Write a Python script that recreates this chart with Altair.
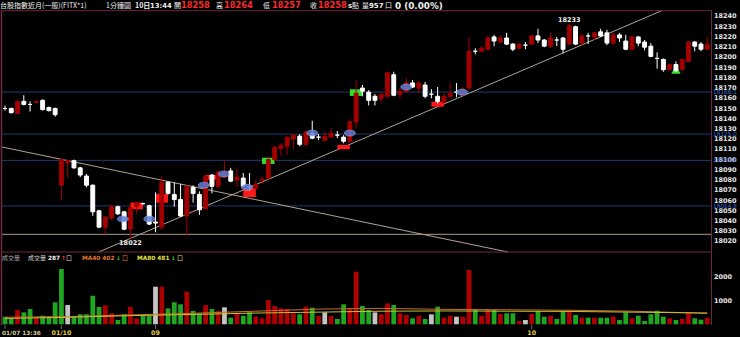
import altair as alt
import pandas as pd

# ---------------- data ----------------
opens = [18150,18150,18145,18157,18154,18156,18158,18151,18150,
         18075,18097,18099,18092,18084,18075,18050,18034,18043,18054,18049,
         18032,18054,18057,18055,18039,18034,18078,18066,18061,18045,
         18073,18066,18052,18085,18074,18083,18089,18080,18082,18074,
         18072,18080,18082,18100,18111,18113,18120,18123,18115,18126,
         18122,18119,18122,18124,18122,18118,18137,18170,18166,18162,
         18160,18162,18183,18164,18167,18175,18170,18173,18164,18162,
         18156,18162,18166,18163,18170,18206,18206,18208,18220,18215,
         18219,18213,18209,18212,18213,18221,18217,18211,18217,18219,
         18213,18230,18214,18221,18220,18225,18224,18214,18222,18216,
         18208,18220,18215,18211,18199,18198,18188,18193,18188,18196,
         18215,18213,18208]
highs = [18153,18151,18158,18163,18157,18158,18159,18152,18151,
         18101,18100,18100,18093,18086,18076,18051,18045,18056,18055,18050,
         18056,18059,18058,18056,18068,18084,18079,18078,18076,18075,
         18075,18069,18085,18086,18089,18099,18092,18091,18087,18087,
         18080,18084,18103,18114,18116,18123,18125,18125,18129,18138,
         18125,18128,18131,18128,18124,18139,18178,18173,18168,18164,
         18165,18186,18186,18170,18180,18178,18177,18176,18169,18171,
         18165,18175,18175,18171,18219,18209,18211,18221,18222,18222,
         18224,18214,18214,18215,18222,18228,18218,18224,18220,18220,
         18233,18231,18223,18224,18225,18228,18227,18224,18224,18222,
         18221,18221,18217,18214,18205,18199,18194,18196,18199,18216,
         18216,18215,18220]
lows = [18148,18145,18145,18153,18147,18156,18148,18147,18142,
        18060,18082,18091,18083,18073,18045,18033,18027,18041,18046,18031,
        18022,18047,18056,18036,18029,18031,18066,18054,18044,18026,
        18058,18046,18051,18067,18072,18082,18078,18073,18073,18070,
        18071,18076,18080,18098,18104,18105,18110,18113,18113,18120,
        18119,18118,18121,18121,18116,18116,18131,18162,18153,18153,
        18155,18160,18162,18160,18165,18170,18165,18160,18160,18155,
        18155,18160,18161,18162,18168,18203,18205,18207,18211,18214,
        18212,18206,18208,18208,18212,18214,18210,18209,18211,18204,
        18212,18212,18212,18213,18217,18220,18212,18212,18215,18207,
        18207,18211,18207,18200,18189,18186,18187,18186,18187,18195,
        18206,18206,18207]
closes = [18150,18146,18157,18154,18154,18157,18149,18148,18144,
          18100,18099,18092,18085,18075,18049,18034,18044,18054,18047,18032,
          18053,18058,18057,18037,18038,18078,18067,18061,18045,18074,
          18067,18051,18084,18074,18088,18087,18079,18083,18074,18073,
          18076,18081,18100,18112,18114,18122,18124,18115,18127,18121,
          18122,18123,18126,18124,18118,18137,18165,18167,18158,18158,
          18164,18185,18163,18167,18175,18171,18175,18162,18164,18157,
          18162,18165,18166,18169,18206,18206,18209,18219,18216,18219,
          18213,18208,18213,18212,18221,18217,18211,18219,18217,18208,
          18231,18213,18221,18221,18224,18221,18214,18222,18219,18208,
          18220,18214,18210,18201,18199,18188,18193,18187,18198,18215,
          18211,18208,18213]
volumes = [325,255,611,510,654,282,368,325,940,
           2363,825,325,427,427,1222,739,811,470,184,427,
           739,256,368,368,1607,1607,682,940,855,1393,
           568,470,825,654,568,725,282,470,368,510,
           325,255,1038,782,682,654,470,427,753,710,
           355,510,355,227,855,682,2250,782,611,510,
           427,897,825,470,398,255,368,227,427,753,
           282,368,325,325,2320,611,368,654,611,441,
           470,470,141,184,441,568,325,368,227,539,
           596,398,282,282,282,282,282,325,184,510,
           255,368,141,427,582,325,255,184,227,510,
           255,198,282]
vol_kind = list("ggrggrggg" "gwgggggrrgg" "rrggwrgggr" "ggrgrwgrgg"
                "rrrrrrrgrg" "rwrggrrggw" "rrgrrgrgwg" "rrwrrgrrgr"
                "ggrwrggrgg" "rgrgrggrgg" "rgggggrgrr" "ggr")

time_idx = [0, 9, 24, 84]
time_text = ["01/07 13:36", "01/10", "09", "10"]

price_ticks = [18020,18030,18040,18050,18060,18070,18080,18090,18100,18110,
               18120,18130,18140,18150,18160,18170,18180,18190,18200,18210,
               18220,18230,18240]
level_prices = [18166.1, 18125.0, 18099.3, 18054.8]
vol_ticks = [1000, 2000]

ma_idx = [0, 10, 20, 30, 40, 50, 60, 70, 80, 90, 100, 112]
ma40 = [300, 330, 400, 470, 560, 650, 680, 640, 620, 600, 560, 470]
ma80 = [250, 300, 370, 420, 480, 520, 560, 570, 560, 550, 520, 480]

ellipse_idx = [18.8, 23, 31.7, 34.9, 38.6, 49, 55, 64, 72.9]
ellipse_price = [18042, 18042, 18075, 18086, 18073, 18126, 18126, 18171, 18166]
redbox_idx = [21, 25, 33, 39, 54, 69]
redbox_lo = [18051.5, 18058, 18080.6, 18063.5, 18110.2, 18151.8]
redbox_hi = [18058, 18066.4, 18085, 18072.3, 18114.4, 18156.7]
greenbox_idx = [42, 56]
greenbox_lo = [18095.8, 18162.3]
greenbox_hi = [18101.9, 18168.8]
tri_idx = [107]
tri_price = [18188]

trend_x1 = [-0.48, 14.94]
trend_p1 = [18112.4, 18009.7]
trend_x2 = [80.2, 104.74]
trend_p2 = [18009.7, 18245.7]
support_price = [18027]

# ---------------- scales ----------------
XS = alt.Scale(domain=[-0.797, 117.22], nice=False, zero=False)
PS = alt.Scale(domain=[17926.6, 18256.13], nice=False, zero=False)
VS = alt.Scale(domain=[-543, 13859], nice=False, zero=False)

UP = "#a30000"
DOWN = "#ffffff"
BORDER = "#6e2a3a"
DJ = "DejaVu Sans"
CJK = "Noto Sans CJK TC"

df = pd.DataFrame({"i": list(range(len(opens))), "o": opens, "h": highs,
                   "l": lows, "c": closes, "v": volumes, "k": vol_kind})
df["col"] = [UP if c > o else DOWN for o, c in zip(df.o, df.c)]
df["vcol"] = df.k.map({"g": "#1fa51f", "r": "#ad0000", "w": "#c4c4c4"})

base = alt.Chart(df)

def xq(f):
    return alt.X(f, type="quantitative", scale=XS, axis=None)

def pq(f):
    return alt.Y(f, type="quantitative", scale=PS, axis=None)

def vq(f):
    return alt.Y(f, type="quantitative", scale=VS, axis=None)

def label(txt, x, y, color, size=8, bold=False, font=DJ, align="left"):
    return alt.Chart(pd.DataFrame({"t": [txt]})).mark_text(
        align=align, baseline="middle", color=color, fontSize=size,
        fontWeight="bold" if bold else "normal", font=font
    ).encode(x=alt.value(x), y=alt.value(y), text="t:N")

def hline(x1, x2, y, color=BORDER, w=1.0):
    return alt.Chart(pd.DataFrame({"a": [0]})).mark_rule(color=color, strokeWidth=w).encode(
        x=alt.value(x1), x2=alt.value(x2), y=alt.value(y))

def vline(x, y1, y2, color=BORDER, w=1.0):
    return alt.Chart(pd.DataFrame({"a": [0]})).mark_rule(color=color, strokeWidth=w).encode(
        x=alt.value(x), y=alt.value(y1), y2=alt.value(y2))

# ---------------- price layers ----------------
levels = alt.Chart(pd.DataFrame({"p": level_prices})).mark_rule(
    color="#1d3a6e", strokeWidth=1).encode(x=alt.value(2), x2=alt.value(712), y=pq("p"))

support = alt.Chart(pd.DataFrame({"p": support_price})).mark_rule(
    color="#a89a88", strokeWidth=1).encode(x=alt.value(2), x2=alt.value(712), y=pq("p"))

trend = alt.Chart(pd.DataFrame({"x1": trend_x1, "x2": trend_x2,
                                "p1": trend_p1, "p2": trend_p2})).mark_rule(
    color="#b0a294", strokeWidth=1).encode(x=xq("x1"), x2="x2:Q", y=pq("p1"), y2="p2:Q")

redbox = alt.Chart(pd.DataFrame({"i": redbox_idx, "lo": redbox_lo, "hi": redbox_hi})
                   ).transform_calculate(a="datum.i - 1.0", b="datum.i + 1.0").mark_rect(
    color="#ff1a1a").encode(x=xq("a"), x2="b:Q", y=pq("lo"), y2="hi:Q")

greenbox = alt.Chart(pd.DataFrame({"i": greenbox_idx, "lo": greenbox_lo, "hi": greenbox_hi})
                     ).transform_calculate(a="datum.i - 1.0", b="datum.i + 1.0").mark_rect(
    color="#2ee02e").encode(x=xq("a"), x2="b:Q", y=pq("lo"), y2="hi:Q")

tri = alt.Chart(pd.DataFrame({"i": tri_idx, "p": tri_price})).mark_point(
    shape="triangle-up", filled=True, size=90, color="#33e033", opacity=1).encode(
    x=xq("i"), y=pq("p"))

wick = base.mark_rule(strokeWidth=1).encode(
    x=xq("i"), y=pq("l"), y2="h:Q", color=alt.Color("col:N", scale=None))

body = base.transform_calculate(a="datum.i - 0.31", b="datum.i + 0.31").mark_rect(
    strokeWidth=1).encode(
    x=xq("a"), x2="b:Q", y=pq("o"), y2="c:Q",
    color=alt.Color("col:N", scale=None), stroke=alt.Stroke("col:N", scale=None))

ELLIPSE = "M -1 0 C -1 -0.73 1 -0.73 1 0 C 1 0.73 -1 0.73 -1 0 Z"
ellipses = alt.Chart(pd.DataFrame({"i": ellipse_idx, "p": ellipse_price})).mark_point(
    shape=ELLIPSE, filled=True, size=121, color="#5d7cd6", opacity=0.85,
    stroke="#9fb4f0", strokeWidth=0.6).encode(x=xq("i"), y=pq("p"))

hl = pd.DataFrame({"i": [90, 20], "p": [18233, 18022], "t": ["18233", "18022"],
                   "pos": ["top", "bottom"]})
hi_lbl = alt.Chart(hl[hl.pos == "top"]).mark_text(
    baseline="bottom", dy=-1, color="#f0f0f0", fontSize=6.5, fontWeight="bold",
    font=DJ).encode(x=xq("i"), y=pq("p"), text="t:N")
lo_lbl = alt.Chart(hl[hl.pos == "bottom"]).mark_text(
    baseline="top", dy=1, color="#f0f0f0", fontSize=6.5, fontWeight="bold",
    font=DJ).encode(x=xq("i"), y=pq("p"), text="t:N")

tick_lbl = alt.Chart(pd.DataFrame({"p": price_ticks})).mark_text(
    align="left", baseline="middle", color="#e6e6e6", fontSize=6.5, fontWeight="bold",
    font=DJ).encode(x=alt.value(714), y=pq("p"), text=alt.Text("p:Q", format="d"))

level_lbl = alt.Chart(pd.DataFrame({"p": level_prices})).mark_text(
    align="left", baseline="middle", color="#2f66c8", fontSize=5.8,
    font=DJ).encode(x=alt.value(713), y=pq("p"), text=alt.Text("p:Q", format=".1f"))

price_layer = alt.layer(levels, support, trend, redbox, greenbox, tri, wick, body,
                        ellipses, hi_lbl, lo_lbl, tick_lbl, level_lbl)

# ---------------- volume layers ----------------
vbar = base.transform_calculate(a="datum.i - 0.38", b="datum.i + 0.38", z="0").mark_rect().encode(
    x=xq("a"), x2="b:Q", y=vq("z"), y2="v:Q", color=alt.Color("vcol:N", scale=None))

ma_df = pd.DataFrame({"i": ma_idx, "m40": ma40, "m80": ma80})
ma40_line = alt.Chart(ma_df).mark_line(color="#c8702a", strokeWidth=1).encode(
    x=xq("i"), y=vq("m40"))
ma80_line = alt.Chart(ma_df).mark_line(color="#c8c038", strokeWidth=1).encode(
    x=xq("i"), y=vq("m80"))

vtick_lbl = alt.Chart(pd.DataFrame({"v": vol_ticks})).mark_text(
    align="left", baseline="middle", color="#e6e6e6", fontSize=6.5, fontWeight="bold",
    font=DJ).encode(x=alt.value(714), y=vq("v"), text=alt.Text("v:Q", format="d"))

tdf = pd.DataFrame({"i": time_idx, "t": time_text})
time_ticks = alt.Chart(tdf).mark_tick(color="#909090", thickness=1, size=4, orient="vertical").encode(
    x=xq("i"), y=alt.value(327))
first_lbl = alt.Chart(tdf.iloc[:1]).mark_text(
    align="left", baseline="middle", dx=-3, color="#d4cc98", fontSize=5.8, fontWeight="bold",
    font=DJ).encode(x=xq("i"), y=alt.value(333), text="t:N")
other_lbl = alt.Chart(tdf.iloc[1:]).mark_text(
    align="center", baseline="middle", color="#e2d040", fontSize=6.3, fontWeight="bold",
    font=DJ).encode(x=xq("i"), y=alt.value(333), text="t:N")

vol_layer = alt.layer(vbar, ma40_line, ma80_line, vtick_lbl, time_ticks, first_lbl, other_lbl)

# ---------------- frame & header text ----------------
W = "#f0f0f0"
RED = "#ff2a2a"
HY = 6
deco = [
    hline(1, 712, 10.7), hline(1, 712, 252), vline(1.5, 10.7, 325, w=1.5), vline(711.5, 10.7, 325),
    label("台股指數近月(一般)(FITX*1)", 0, HY, W, 7, font=CJK),
    label("1分鐘圖", 106, HY, W, 7, font=CJK),
    label("10日", 135, HY, W, 7, bold=True, font=CJK),
    label("13:44", 150, HY, W, 6.8, bold=True),
    label("開", 174, HY, W, 7, font=CJK),
    label("18258", 181, HY, RED, 8.3, bold=True),
    label("高", 216, HY, W, 7, font=CJK),
    label("18264", 224, HY, RED, 8.3, bold=True),
    label("低", 263, HY, W, 7, font=CJK),
    label("18257", 272, HY, RED, 8.3, bold=True),
    label("收", 310, HY, W, 7, font=CJK),
    label("18258", 318, HY, RED, 8.3, bold=True),
    label("s", 348, HY, W, 7, bold=True),
    label("點", 352, HY, W, 7, font=CJK),
    label("量", 362, HY, W, 7, font=CJK),
    label("957", 369, HY, W, 7, bold=True),
    label("口", 385, HY, W, 7, font=CJK),
    label("0 (0.00%)", 395, HY, W, 8.8, bold=True),
    label("成交量", 2, 258, "#a8a8a8", 6, font=CJK),
    label("成交量", 28, 258, "#d8d8d8", 6, font=CJK),
    label("287", 48, 258, W, 5.8, bold=True),
    label("↑", 61, 258, "#ff3030", 5.8, bold=True),
    label("口", 66, 258, "#d8d8d8", 6, font=CJK),
    label("MA40 402", 82, 258, "#e07a30", 5.8, bold=True),
    label("↓", 116, 258, "#30d030", 5.8, bold=True),
    label("口", 122, 258, "#e07a30", 6, font=CJK),
    label("MA80 481", 137, 258, "#e8e040", 5.8, bold=True),
    label("↓", 171, 258, "#30d030", 5.8, bold=True),
    label("口", 177, 258, "#e8e040", 6, font=CJK),
]
deco_layer = alt.layer(*deco)

chart = alt.layer(price_layer, vol_layer, deco_layer).resolve_scale(
    y="independent").properties(
    width=740, height=337, padding=0, background="#000000",
    autosize=alt.AutoSizeParams(type="none")
).configure_view(stroke=None)

chart.save("out.html", embed_options={"renderer": "svg", "actions": False})
